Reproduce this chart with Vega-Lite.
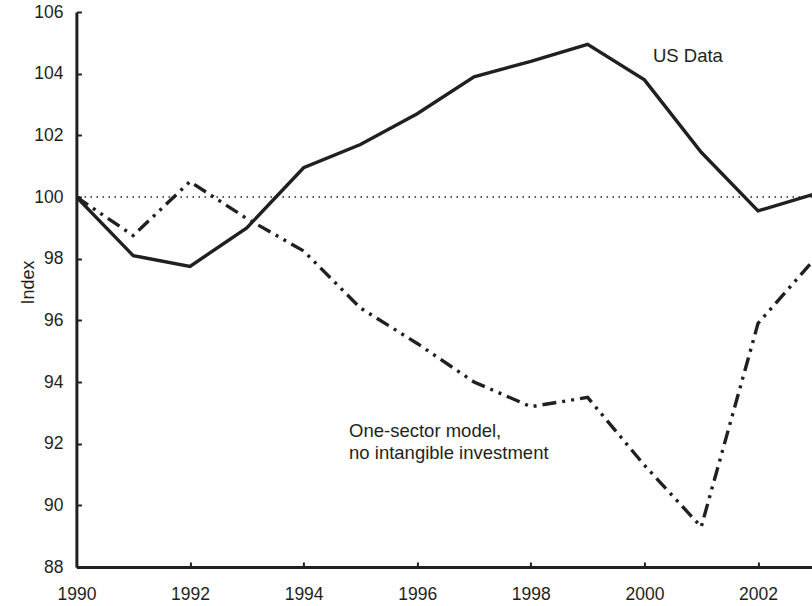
{
  "$schema": "https://vega.github.io/schema/vega-lite/v6.json",
  "width": 735.6,
  "height": 555,
  "autosize": {"type": "none"},
  "padding": {"left": 76.4, "top": 12, "right": 0, "bottom": 39},
  "background": "white",
  "config": {
    "view": {"stroke": null},
    "font": "Liberation Sans",
    "axis": {"grid": false, "domainColor": "#231f20", "domainWidth": 3, "tickColor": "#231f20", "tickWidth": 2, "labelColor": "#231f20", "titleColor": "#231f20", "labelFont": "Liberation Sans", "titleFont": "Liberation Sans", "labelFlush": false, "labelOverlap": false, "labelBound": false}
  },
  "datasets": {
    "series": [
      {"year": 1990, "value": 100.0, "series": "US Data"},
      {"year": 1991, "value": 98.1, "series": "US Data"},
      {"year": 1992, "value": 97.75, "series": "US Data"},
      {"year": 1993, "value": 99.0, "series": "US Data"},
      {"year": 1994, "value": 100.95, "series": "US Data"},
      {"year": 1995, "value": 101.7, "series": "US Data"},
      {"year": 1996, "value": 102.7, "series": "US Data"},
      {"year": 1997, "value": 103.9, "series": "US Data"},
      {"year": 1998, "value": 104.4, "series": "US Data"},
      {"year": 1999, "value": 104.95, "series": "US Data"},
      {"year": 2000, "value": 103.8, "series": "US Data"},
      {"year": 2001, "value": 101.45, "series": "US Data"},
      {"year": 2002, "value": 99.55, "series": "US Data"},
      {"year": 2003, "value": 100.1, "series": "US Data"},
      {"year": 1990, "value": 100.0, "series": "One-sector model"},
      {"year": 1991, "value": 98.75, "series": "One-sector model"},
      {"year": 1992, "value": 100.5, "series": "One-sector model"},
      {"year": 1993, "value": 99.3, "series": "One-sector model"},
      {"year": 1994, "value": 98.25, "series": "One-sector model"},
      {"year": 1995, "value": 96.4, "series": "One-sector model"},
      {"year": 1996, "value": 95.25, "series": "One-sector model"},
      {"year": 1997, "value": 94.0, "series": "One-sector model"},
      {"year": 1998, "value": 93.2, "series": "One-sector model"},
      {"year": 1999, "value": 93.5, "series": "One-sector model"},
      {"year": 2000, "value": 91.3, "series": "One-sector model"},
      {"year": 2001, "value": 89.3, "series": "One-sector model"},
      {"year": 2002, "value": 95.9, "series": "One-sector model"},
      {"year": 2003, "value": 98.0, "series": "One-sector model"}
    ],
    "labels": [
      {"year": 2000.15, "value": 104.57, "text": "US Data"},
      {"year": 1994.8, "value": 92.4, "text": "One-sector model,"},
      {"year": 1994.8, "value": 91.7, "text": "no intangible investment"}
    ],
    "ref": [{"value": 100}]
  },
  "layer": [
    {
      "data": {"name": "ref"},
      "mark": {"type": "rule", "color": "#231f20", "strokeWidth": 1.3, "strokeDash": [1.5, 4.5]},
      "encoding": {"y": {"field": "value", "type": "quantitative", "scale": {"domain": [88, 106], "nice": false}}}
    },
    {
      "data": {"name": "series"},
      "transform": [{"filter": "datum.series === 'US Data'"}],
      "mark": {"type": "line", "color": "#231f20", "strokeWidth": 3.4, "clip": true, "strokeJoin": "miter"},
      "encoding": {
        "x": {"field": "year", "type": "quantitative", "scale": {"domain": [1990, 2002.95], "nice": false, "zero": false},
          "axis": {"values": [1990, 1992, 1994, 1996, 1998, 2000, 2002], "format": "d", "title": null, "tickSize": -5, "labelPadding": 23, "labelFontSize": 17.5}},
        "y": {"field": "value", "type": "quantitative", "scale": {"domain": [88, 106], "nice": false, "zero": false},
          "axis": {"values": [88, 90, 92, 94, 96, 98, 100, 102, 104, 106], "title": "Index", "tickSize": -5, "labelPadding": 18.5, "labelFontSize": 17.5, "titleFontSize": 18, "titleFontWeight": "normal", "titleX": -48.4, "titleY": 270, "titleBaseline": "middle", "titleAlign": "center", "titleAngle": -90}}
      }
    },
    {
      "data": {"name": "series"},
      "transform": [{"filter": "datum.series === 'One-sector model'"}],
      "mark": {"type": "line", "color": "#231f20", "strokeWidth": 3.4, "clip": true, "strokeDash": [14, 6, 3, 6, 3, 6], "strokeCap": "butt"},
      "encoding": {
        "x": {"field": "year", "type": "quantitative"},
        "y": {"field": "value", "type": "quantitative"}
      }
    },
    {
      "data": {"name": "labels"},
      "mark": {"type": "text", "align": "left", "baseline": "middle", "fontSize": 18.5, "color": "#231f20", "font": "Liberation Sans"},
      "encoding": {
        "x": {"field": "year", "type": "quantitative"},
        "y": {"field": "value", "type": "quantitative"},
        "text": {"field": "text"}
      }
    }
  ]
}
